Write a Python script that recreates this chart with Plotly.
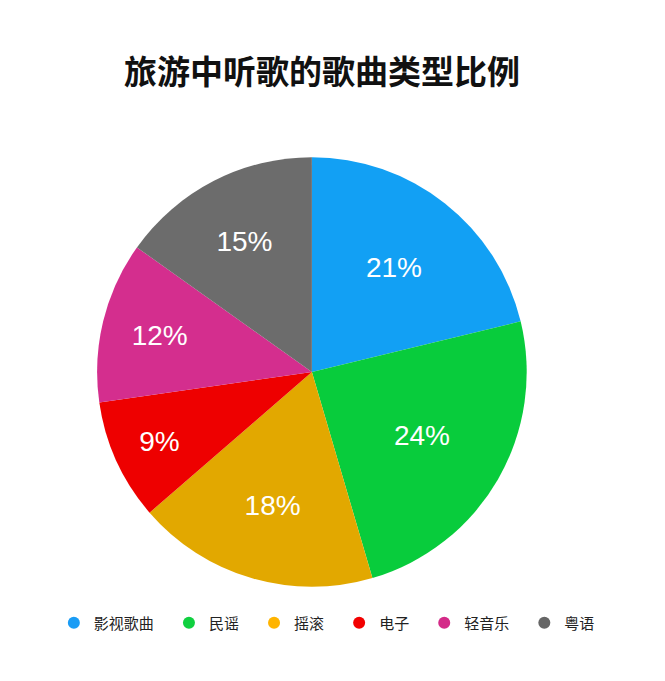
import plotly.graph_objects as go

# 歌曲类型及比例
categories = ["影视歌曲", "民谣", "摇滚", "电子", "轻音乐", "粤语"]
shares = [21, 24, 18, 9, 12, 15]
colors = ["#12a0f4", "#08cc3c", "#e2a800", "#ee0000", "#d42e8e", "#6c6c6c"]
legend_colors = ["#1a9cf5", "#10d040", "#ffb400", "#f20000", "#d42a88", "#666666"]

font_family = "Noto Sans CJK SC, Noto Sans, sans-serif"

fig = go.Figure()

fig.add_trace(go.Pie(
    labels=categories,
    values=shares,
    sort=False,
    direction="clockwise",
    rotation=0,
    marker=dict(colors=colors, line=dict(width=0)),
    texttemplate="%{value}%",
    textposition="inside",
    insidetextorientation="horizontal",
    textfont=dict(size=28, color="white", family="Liberation Sans, Arial, sans-serif"),
    showlegend=False,
    hoverinfo="label+percent",
    domain=dict(x=[0.134, 0.780], y=[0.150, 0.781]),
))

# legend with round markers
for name, c in zip(categories, legend_colors):
    fig.add_trace(go.Scatter(
        x=[None], y=[None], mode="markers",
        name=name + "\u00a0\u00a0\u00a0",
        marker=dict(symbol="circle", size=14, color=c),
    ))

fig.update_layout(
    width=665, height=681,
    margin=dict(l=0, r=0, t=0, b=0),
    paper_bgcolor="white",
    plot_bgcolor="white",
    title=dict(
        text="<b>旅游中听歌的歌曲类型比例</b>",
        x=0.472, xanchor="center",
        y=0.906, yanchor="middle",
        font=dict(size=33, color="#111111", family=font_family),
    ),
    xaxis=dict(visible=False),
    yaxis=dict(visible=False),
    legend=dict(
        orientation="h",
        x=0.487, xanchor="center",
        y=0.097, yanchor="middle",
        font=dict(size=15, color="#222222", family=font_family),
        itemsizing="constant",
        tracegroupgap=0,
    ),
)

fig.write_html("out.html")
